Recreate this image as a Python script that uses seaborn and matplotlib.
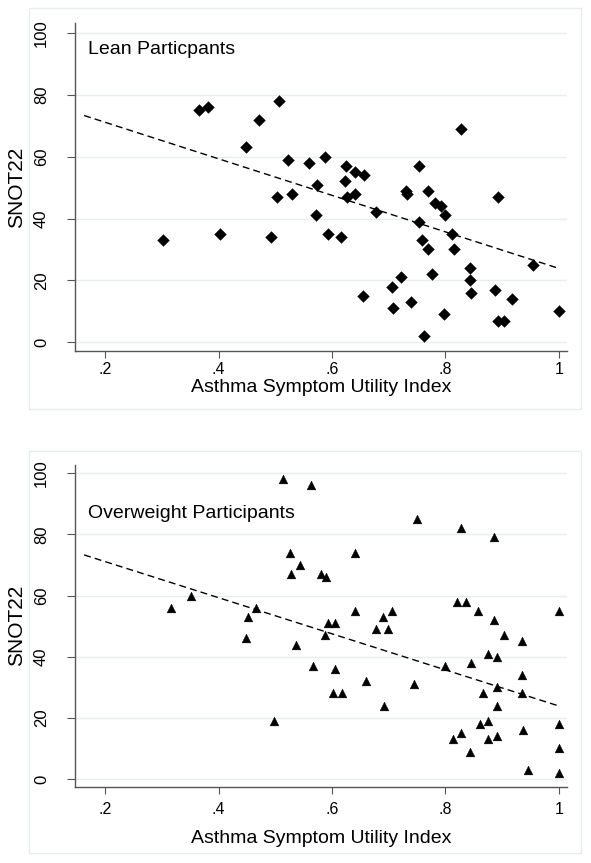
import numpy as np
import pandas as pd
import matplotlib
matplotlib.use("Agg")
import matplotlib.pyplot as plt
import seaborn as sns
from matplotlib.patches import Rectangle

# ---- data ----
lean_asui = [0.301, 0.365, 0.381, 0.402, 0.449, 0.471, 0.493, 0.503, 0.506, 0.523,
             0.530, 0.560, 0.572, 0.574, 0.587, 0.592, 0.616, 0.623, 0.624, 0.626,
             0.640, 0.641, 0.655, 0.656, 0.677, 0.706, 0.708, 0.722, 0.730, 0.733,
             0.739, 0.754, 0.754, 0.759, 0.762, 0.770, 0.770, 0.777, 0.782, 0.793,
             0.798, 0.799, 0.811, 0.815, 0.827, 0.843, 0.843, 0.845, 0.887, 0.892,
             0.893, 0.904, 0.918, 0.954, 1.000]
lean_snot = [33, 75, 76, 35, 63, 72, 34, 47, 78, 59,
             48, 58, 41, 51, 60, 35, 34, 52, 57, 47,
             55, 48, 15, 54, 42, 18, 11, 21, 49, 48,
             13, 57, 39, 33, 2, 49, 30, 22, 45, 44,
             9, 41, 35, 30, 69, 24, 20, 16, 17, 7,
             47, 7, 14, 25, 10]

ow_asui = [0.315, 0.351, 0.448, 0.451, 0.465, 0.498, 0.513, 0.525, 0.528, 0.536,
           0.544, 0.562, 0.566, 0.580, 0.588, 0.590, 0.592, 0.602, 0.605, 0.605,
           0.618, 0.640, 0.641, 0.659, 0.678, 0.689, 0.692, 0.698, 0.705, 0.744,
           0.750, 0.799, 0.813, 0.820, 0.827, 0.827, 0.836, 0.843, 0.845, 0.857,
           0.861, 0.867, 0.875, 0.875, 0.875, 0.886, 0.886, 0.891, 0.891, 0.891,
           0.891, 0.904, 0.935, 0.935, 0.935, 0.937, 0.946, 1.000, 1.000, 1.000,
           1.000]
ow_snot = [56, 60, 46, 53, 56, 19, 98, 74, 67, 44,
           70, 96, 37, 67, 47, 66, 51, 28, 51, 36,
           28, 74, 55, 32, 49, 53, 24, 49, 55, 31,
           85, 37, 13, 58, 82, 15, 58, 9, 38, 55,
           18, 28, 41, 19, 13, 79, 52, 40, 30, 24,
           14, 47, 45, 34, 28, 16, 3, 55, 18, 10,
           2]

# fitted line (same line in both panels)
fit_asui = [0.1625, 1.0]
fit_snot = [73.3, 23.9]

x_ticks = [0.2, 0.4, 0.6, 0.8, 1.0]
x_tick_labels = [".2", ".4", ".6", ".8", "1"]
y_ticks = [0, 20, 40, 60, 80, 100]
y_tick_labels = ["0", "20", "40", "60", "80", "100"]
panel_titles = ["Lean Particpants", "Overweight Participants"]
x_title = "Asthma Symptom Utility Index"
y_title = "SNOT22"

# ---- style ----
sns.set_theme(style="white")
plt.rcParams['font.family'] = ['Liberation Sans', 'DejaVu Sans']
plt.rcParams['text.color'] = 'black'
plt.rcParams['axes.labelcolor'] = 'black'
plt.rcParams['xtick.labelcolor'] = 'black'
plt.rcParams['ytick.labelcolor'] = 'black'

W, H = 591, 863
fig = plt.figure(figsize=(W / 100, H / 100), dpi=100)
fig.patch.set_facecolor("white")


def px_axes(l, t, r, b):
    return fig.add_axes([l / W, 1 - b / H, (r - l) / W, (b - t) / H])


def px_frame(l, t, r, b):
    fig.add_artist(Rectangle((l / W, 1 - b / H), (r - l) / W, (b - t) / H,
                             transform=fig.transFigure, fill=False,
                             edgecolor="#e6eded", linewidth=1.0))


fit_df = pd.DataFrame({"x": fit_asui, "y": fit_snot})

panels = [
    dict(x=lean_asui, y=lean_snot, marker="D", s=36, title=panel_titles[0],
         box=(75.3, 23.3, 567.3, 351.3), frame=(29, 8, 581, 409),
         ylim=(-2.9, 103.1), title_y=94.5, xpad=3.0, xlab_y=-0.110),
    dict(x=ow_asui, y=ow_snot, marker="^", s=40, title=panel_titles[1],
         box=(75.3, 465.0, 567.3, 786.7), frame=(29, 451, 581, 853),
         ylim=(-2.5, 102.7), title_y=87.0, xpad=6.0, xlab_y=-0.160),
]

for p in panels:
    px_frame(*p["frame"])
    ax = px_axes(*p["box"])
    df = pd.DataFrame({"asui": p["x"], "snot": p["y"]})
    sns.scatterplot(data=df, x="asui", y="snot", ax=ax, marker=p["marker"],
                    s=p["s"], color="black", edgecolor="black", linewidth=0.3,
                    zorder=3)
    sns.lineplot(data=fit_df, x="x", y="y", ax=ax, color="black",
                 linewidth=1.0, dashes=False, linestyle=(0, (5, 3)), zorder=2)
    ax.set_xlim(0.147, 1.015)
    ax.set_ylim(*p["ylim"])
    ax.set_xticks(x_ticks)
    ax.set_xticklabels(x_tick_labels, fontsize=11.5, color="black")
    ax.set_yticks(y_ticks)
    ax.set_yticklabels(y_tick_labels, fontsize=12, rotation=90, va="center",
                       color="black")
    ax.tick_params(axis="y", length=6, width=0.8, color="#555555", pad=13,
                   left=True)
    ax.tick_params(axis="x", length=5, width=0.8, color="#555555",
                   pad=p["xpad"], bottom=True)
    ax.yaxis.grid(True, color="#e6eeee", linewidth=1.0)
    ax.xaxis.grid(False)
    ax.set_axisbelow(True)
    for side in ["top", "right"]:
        ax.spines[side].set_visible(False)
    for side in ["left", "bottom"]:
        ax.spines[side].set_color("#555555")
        ax.spines[side].set_linewidth(1.0)
    ax.set_xlabel(x_title, fontsize=14, va="center", color="black")
    ax.xaxis.set_label_coords(0.5, p["xlab_y"])
    ax.set_ylabel(y_title, fontsize=15, va="center", color="black")
    ax.yaxis.set_label_coords(-0.1185, 0.5)
    ax.text(0.1695, p["title_y"], p["title"], fontsize=14, ha="left",
            va="center", color="black")
    ax.set_facecolor("white")

fig.savefig("out.png", dpi=100, facecolor="white")
